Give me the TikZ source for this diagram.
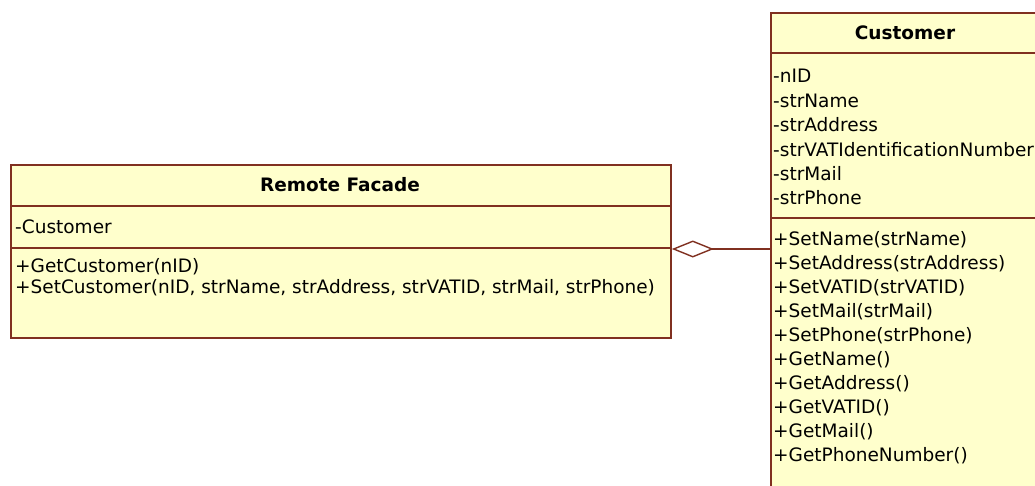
\documentclass[tikz,border=0pt]{standalone}
\usepackage{fontspec}
\setmainfont{DejaVu Sans}
\usetikzlibrary{arrows.meta}
\definecolor{umlfill}{RGB}{255,255,204}
\definecolor{umlline}{RGB}{128,48,32}
\begin{document}
\begin{tikzpicture}[x=1pt,y=-1pt,
  font=\fontsize{18.5}{22}\selectfont,
  classbox/.style={draw=umlline, fill=umlfill, line width=1.8pt, anchor=north west, inner sep=0pt, rectangle},
  txt/.style={anchor=west, inner sep=0pt},
  ttl/.style={font=\fontsize{18.5}{22}\selectfont\bfseries, inner sep=0pt},
  sepline/.style={draw=umlline, line width=1.8pt},
  aggr/.style={draw=umlline, line width=1.4pt, {Diamond[open,length=42pt,width=17pt,line width=1.4pt]}-}]
\fill[white] (0,0) rectangle (1035,485);
\useasboundingbox (0,0) rectangle (1035,485);
\begin{scope}
\clip (0,0) rectangle (1035,485);
% Remote Facade
\node[classbox, minimum width=660pt, minimum height=173pt] (rf) at (10,164) {};
\draw[sepline] (rf.west |- 0,206) -- (rf.east |- 0,206);
\draw[sepline] (rf.west |- 0,248) -- (rf.east |- 0,248);
\node[ttl] (rft) at (340,185) {Remote Facade};
\node[txt] (rfa) at (15,227) {-Customer};
\node[txt] (rfm1) at (15,267) {+GetCustomer(nID)};
\node[txt] (rfm2) at (15,288) {+SetCustomer(nID, strName, strAddress, strVATID, strMail, strPhone)};
% Customer
\node[classbox, minimum width=270pt, minimum height=500pt] (cu) at (770,12) {};
\draw[sepline] (cu.west |- 0,53) -- (cu.east |- 0,53);
\draw[sepline] (cu.west |- 0,218) -- (cu.east |- 0,218);
\node[ttl] (cut) at (905,33) {Customer};
\node[txt] (ca1) at (773,76) {-nID};
\node[txt] (ca2) at (773,100.4) {-strName};
\node[txt] (ca3) at (773,124.8) {-strAddress};
\node[txt] (ca4) at (773,149.2) {-strVATIdentificationNumber};
\node[txt] (ca5) at (773,173.6) {-strMail};
\node[txt] (ca6) at (773,198) {-strPhone};
\node[txt] (cm1) at (773,240) {+SetName(strName)};
\node[txt] (cm2) at (773,264) {+SetAddress(strAddress)};
\node[txt] (cm3) at (773,288) {+SetVATID(strVATID)};
\node[txt] (cm4) at (773,312) {+SetMail(strMail)};
\node[txt] (cm5) at (773,336) {+SetPhone(strPhone)};
\node[txt] (cm6) at (773,360) {+GetName()};
\node[txt] (cm7) at (773,384) {+GetAddress()};
\node[txt] (cm8) at (773,408) {+GetVATID()};
\node[txt] (cm9) at (773,432) {+GetMail()};
\node[txt] (cm10) at (773,456) {+GetPhoneNumber()};
% aggregation
\coordinate (aggA) at (rf.east |- 0,249);
\coordinate (aggB) at (cu.west |- 0,249);
\draw[aggr] (aggA) -- (aggB);
\end{scope}
\end{tikzpicture}
\end{document}
